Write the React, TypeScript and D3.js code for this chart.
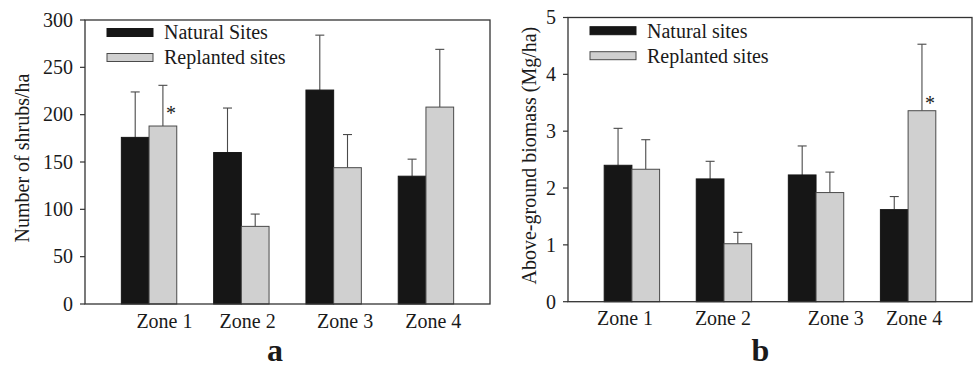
import React from "react";
import * as d3 from "d3";

const zones = ["Zone 1", "Zone 2", "Zone 3", "Zone 4"];
const shrubsNatural = [176, 160, 226, 135];
const shrubsNaturalErr = [48, 47, 58, 18];
const shrubsReplanted = [188, 82, 144, 208];
const shrubsReplantedErr = [43, 13, 35, 61];
const biomassNatural = [2.4, 2.16, 2.23, 1.62];
const biomassNaturalErr = [0.65, 0.31, 0.51, 0.23];
const biomassReplanted = [2.33, 1.02, 1.92, 3.36];
const biomassReplantedErr = [0.52, 0.2, 0.36, 1.17];
const shrubTicks = [0, 50, 100, 150, 200, 250, 300];
const biomassTicks = [0, 1, 2, 3, 4, 5];

const FONT = "'Liberation Serif', 'Times New Roman', serif";
const TXT = "#1a1a1a";
const DARK = "#161616";
const LIGHT = "#d0d0d0";
const EDGE = "#4a4a4a";

type PanelProps = {
  x0: number; x1: number; yTop: number; yBot: number;
  yMax: number; ticks: number[];
  natural: number[]; naturalErr: number[];
  replanted: number[]; replantedErr: number[];
  star: number;
  starDy: number;
  title: string; legendNatural: string; letter: string;
  labelOffsets: number[]; letterDx: number; titleX: number;
  legendY: number;
};

function Panel(p: PanelProps) {
  const x = d3.scalePoint<string>().domain(zones).range([p.x0, p.x1]).padding(0.694);
  const sub = d3.scaleBand<string>().domain(["n", "r"]).range([-27.7, 27.7]).padding(0);
  const y = d3.scaleLinear().domain([0, p.yMax]).range([p.yBot, p.yTop]);
  const bw = sub.bandwidth();
  const series = [
    { key: "n", vals: p.natural, errs: p.naturalErr, fill: DARK },
    { key: "r", vals: p.replanted, errs: p.replantedErr, fill: LIGHT },
  ];
  const titleY = (p.yTop + p.yBot) / 2 - 4;
  return (
    <g>
      {series.map((s) =>
        zones.map((z, i) => {
          const bx = (x(z) as number) + (sub(s.key) as number);
          const cx = bx + bw / 2;
          const top = y(s.vals[i]);
          const et = y(s.vals[i] + s.errs[i]);
          return (
            <g key={s.key + z}>
              <line x1={cx} x2={cx} y1={top} y2={et} stroke={EDGE} strokeWidth={1.1} />
              <line x1={cx - 4.5} x2={cx + 4.5} y1={et} y2={et} stroke={EDGE} strokeWidth={1.1} />
              <rect x={bx} y={top} width={bw} height={p.yBot - top} fill={s.fill}
                stroke={s.key === "n" ? DARK : EDGE} strokeWidth={1} />
            </g>
          );
        })
      )}
      {(() => {
        const z = zones[p.star];
        const cx = (x(z) as number) + (sub("r") as number) + bw / 2;
        const top = y(p.replanted[p.star]);
        return (
          <text x={cx + 3} y={top + p.starDy} fontFamily={FONT} fontSize={20} fill={TXT}>*</text>
        );
      })()}
      <rect x={p.x0} y={p.yTop} width={p.x1 - p.x0} height={p.yBot - p.yTop} fill="none" stroke="#333" strokeWidth={1.3} />
      {p.ticks.map((t) => (
        <g key={t}>
          <line x1={p.x0 - 5} x2={p.x0} y1={y(t)} y2={y(t)} stroke="#333" strokeWidth={1.2} />
          <text x={p.x0 - 12} y={y(t)} dy="0.34em" textAnchor="end" fontFamily={FONT} fontSize={20} fill={TXT}>{t}</text>
        </g>
      ))}
      {zones.map((z, i) => (
        <text key={z} x={(x(z) as number) + p.labelOffsets[i]} y={p.yBot + 23.5} textAnchor="middle"
          fontFamily={FONT} fontSize={20} fill={TXT}>{z}</text>
      ))}
      <text transform={`translate(${p.titleX},${titleY}) rotate(-90)`} textAnchor="middle" dy="0.34em"
        fontFamily={FONT} fontSize={20} fill={TXT}>{p.title}</text>
      <rect x={p.x0 + 22} y={p.legendY} width={46} height={8} fill={DARK} stroke={DARK} strokeWidth={1} />
      <text x={p.x0 + 79} y={p.legendY + 4} dy="0.34em" fontFamily={FONT} fontSize={20} fill={TXT}>{p.legendNatural}</text>
      <rect x={p.x0 + 22} y={p.legendY + 25} width={46} height={8} fill={LIGHT} stroke={EDGE} strokeWidth={1} />
      <text x={p.x0 + 79} y={p.legendY + 29} dy="0.34em" fontFamily={FONT} fontSize={20} fill={TXT}>Replanted sites</text>
      <text x={(p.x0 + p.x1) / 2 + p.letterDx} y={361} textAnchor="middle" fontFamily={FONT}
        fontWeight="bold" fontSize={32} fill={TXT}>{p.letter}</text>
    </g>
  );
}

export default function App() {
  return (
    <svg width={975} height={368} style={{ position: "absolute", left: 0, top: 0, background: "#fff" }}>
      <rect width={975} height={368} fill="#fff" />
      <Panel x0={85} x1={490} yTop={20} yBot={304} yMax={300} ticks={shrubTicks}
        natural={shrubsNatural} naturalErr={shrubsNaturalErr}
        replanted={shrubsReplanted} replantedErr={shrubsReplantedErr}
        star={0} starDy={-6}
        title="Number of shrubs/ha" legendNatural="Natural Sites" letter="a"
        labelOffsets={[15.4, 6.3, 11.5, 7.3]} letterDx={-12.5} titleX={22} legendY={28.5} />
      <Panel x0={568} x1={972} yTop={17.5} yBot={301.7} yMax={5} ticks={biomassTicks}
        natural={biomassNatural} naturalErr={biomassNaturalErr}
        replanted={biomassReplanted} replantedErr={biomassReplantedErr}
        star={3} starDy={-1}
        title="Above-ground biomass (Mg/ha)" legendNatural="Natural sites" letter="b"
        labelOffsets={[-6.9, -1, 19.7, 6]} letterDx={-9.5} titleX={529} legendY={26.7} />
    </svg>
  );
}
